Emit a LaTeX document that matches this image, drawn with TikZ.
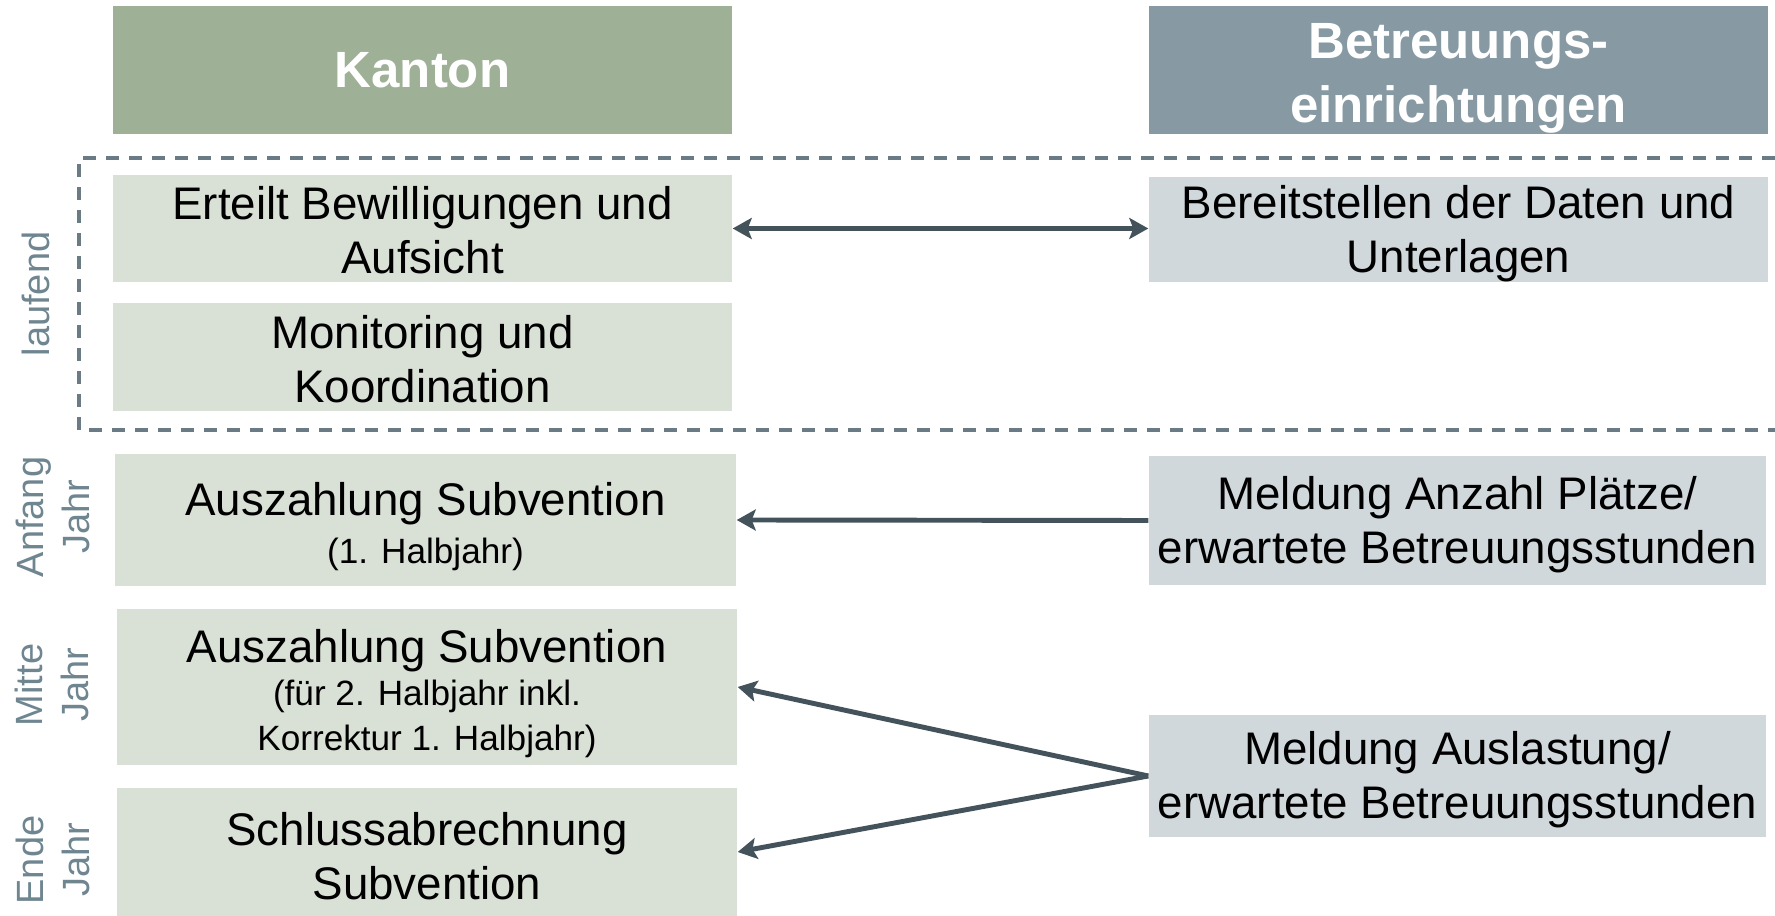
\documentclass[tikz,border=0pt]{standalone}
\usepackage{fontspec}
\setmainfont{Liberation Sans}
\usetikzlibrary{arrows.meta}
\definecolor{kantongruen}{HTML}{9EB096}
\definecolor{kantonhell}{HTML}{D9E0D5}
\definecolor{einrichtgrau}{HTML}{8799A3}
\definecolor{einrichthell}{HTML}{D0D8DC}
\definecolor{pfeilgrau}{HTML}{44535B}
\definecolor{strichgrau}{HTML}{6B7B85}
\definecolor{zeitgrau}{HTML}{6F8691}
\newcommand{\klein}{\fontsize{10}{12.8}\selectfont}
\newcommand{\hoch}[1]{\rule{0pt}{#1}}

\begin{document}
\begin{tikzpicture}[
        kopf/.style = {fill = #1, text = white, font = \fontsize{14.5}{18.3}\selectfont\bfseries, minimum width = 6.19cm, minimum height = 1.28cm, align = center, inner sep = 0pt},
        aufgabe/.style = {fill = #1, font = \fontsize{13}{15.4}\selectfont, minimum width = 6.19cm, align = center, inner sep = 0pt},
        zeit/.style = {rotate = 90, text = zeitgrau, font = \fontsize{10.8}{13}\selectfont, align = center, inner sep = 0pt},
        pfeil/.style = {draw = pfeilgrau, line width = 1.4pt, -{Stealth[length = 1.9mm, width = 2.1mm, inset = 0.4mm]}}
    ]
        \useasboundingbox (0, 0) rectangle (17.75, -9.16);
        % Kopfzeile
        \node [kopf = kantongruen] (kanton) at (4.225, -0.70) {Kanton};
        \node [kopf = einrichtgrau] (einricht) at (14.585, -0.70) {\hoch{14.9pt}Betreuungs-\\einrichtungen};
        % laufend
        \draw [strichgrau, line width = 0.95pt, dash pattern = on 1.3mm off 1mm] (17.75, -1.58) -- (0.79, -1.58) -- (0.79, -4.30) -- (17.75, -4.30);
        \node [zeit] (laufend) at (0.36, -2.94) {laufend};
        \node [aufgabe = kantonhell, minimum height = 1.07cm] (bewilligung) at (4.225, -2.285) {\hoch{10.6pt}Erteilt Bewilligungen und\\Aufsicht};
        \node [aufgabe = kantonhell, minimum height = 1.08cm] (monitoring) at (4.225, -3.57) {\hoch{10.6pt}Monitoring und\\Koordination};
        \node [aufgabe = einrichthell, minimum height = 1.03cm] (daten) at (14.585, -2.295) {\hoch{11.6pt}Bereitstellen der Daten und\\Unterlagen};
        % Jahresablauf
        \node [zeit] (anfang) at (0.53, -5.17) {Anfang\\Jahr};
        \node [zeit] (mitte) at (0.52, -6.85) {Mitte\\Jahr};
        \node [zeit] (ende) at (0.53, -8.60) {Ende\\Jahr};
        \node [aufgabe = kantonhell, minimum width = 6.21cm, minimum height = 1.32cm] (subvention1) at (4.255, -5.20) {\hoch{13.3pt}Auszahlung Subvention\\[-1.6pt]{\klein (1. Halbjahr)}};
        \node [aufgabe = kantonhell, minimum width = 6.2cm, minimum height = 1.56cm] (subvention2) at (4.27, -6.87) {\hoch{13.3pt}Auszahlung Subvention\\[-3.2pt]{\klein (für 2. Halbjahr inkl.}\\[-2.5pt]{\klein Korrektur 1. Halbjahr)}};
        \node [aufgabe = kantonhell, minimum width = 6.2cm, minimum height = 1.28cm] (schluss) at (4.27, -8.52) {\hoch{11.6pt}Schlussabrechnung\\Subvention};
        \node [aufgabe = einrichthell, minimum width = 6.17cm, minimum height = 1.29cm] (plaetze) at (14.575, -5.205) {\hoch{11.6pt}Meldung Anzahl Plätze/\\erwartete Betreuungsstunden};
        \node [aufgabe = einrichthell, minimum width = 6.17cm, minimum height = 1.22cm] (auslastung) at (14.575, -7.76) {\hoch{11.4pt}Meldung Auslastung/\\erwartete Betreuungsstunden};
        % Pfeile
        \draw [pfeil, {Stealth[length = 1.9mm, width = 2.1mm, inset = 0.4mm]}-{Stealth[length = 1.9mm, width = 2.1mm, inset = 0.4mm]}] (bewilligung.east) -- (bewilligung.east -| daten.west);
        \draw [pfeil] (plaetze.west) -- (subvention1.east);
        \draw [pfeil] (auslastung.west) -- (subvention2.east);
        \draw [pfeil] (auslastung.west) -- (schluss.east);
    \end{tikzpicture}
\end{document}
